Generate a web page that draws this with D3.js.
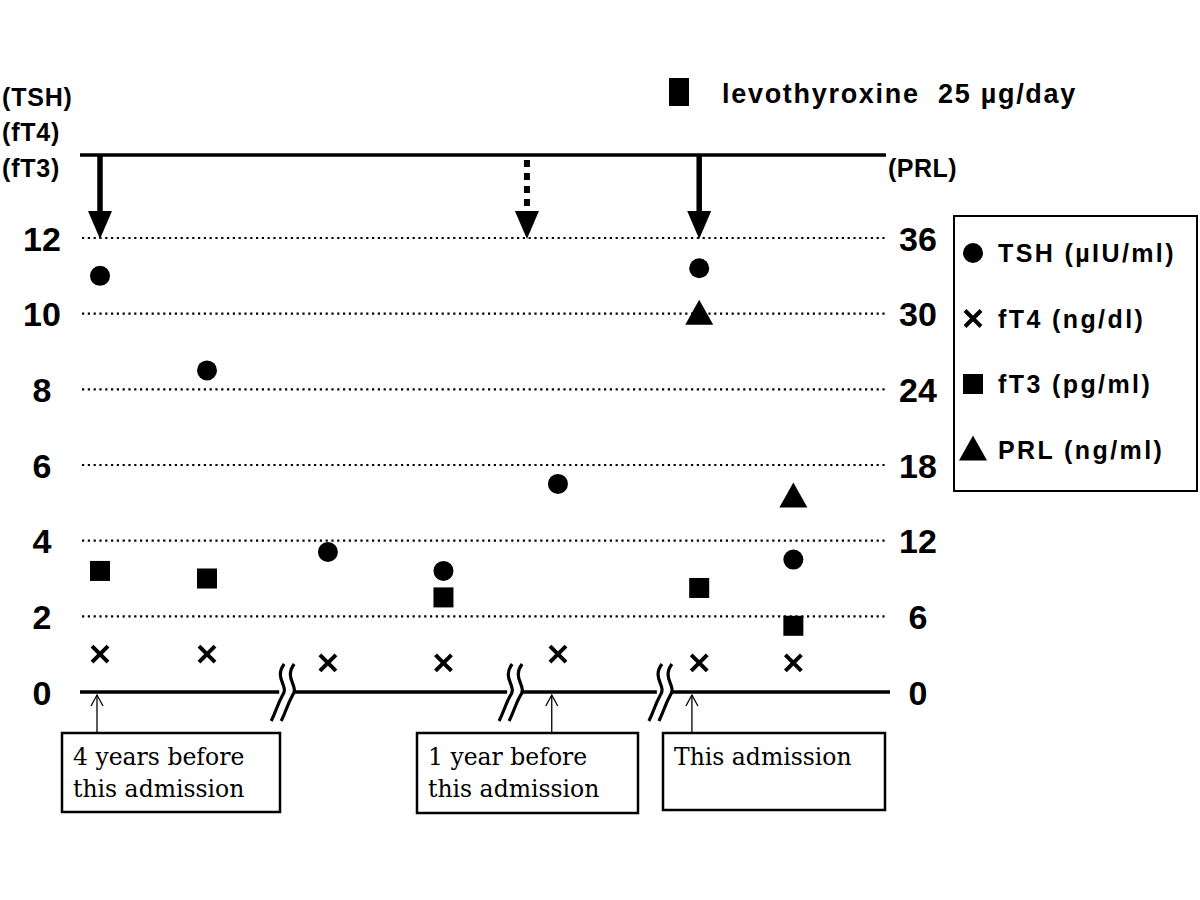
<!DOCTYPE html>
<html><head><meta charset="utf-8">
<script src="https://cdn.jsdelivr.net/npm/d3@7"></script>
<style>body{margin:0;background:#fff}</style>
</head><body>
<script>
// ---- data ----
const visitPos = [0, 1, 2.13, 3.21, 4.28, 5.6, 6.48];   // x position of each visit (time units, broken axis)
const tsh = [11.0, 8.5, 3.7, 3.2, 5.5, 11.2, 3.5];
const ft4 = [1.0, 1.0, 0.77, 0.77, 1.0, 0.77, 0.77];
const ft3 = [3.2, 3.0, null, 2.5, null, 2.75, 1.75];
const prl = [null, null, null, null, null, 30, 15.5];
const leftTicks = [0, 2, 4, 6, 8, 10, 12];
const rightTicks = [0, 6, 12, 18, 24, 30, 36];
const breakPos = [1.74, 3.87, 5.27];
const doseArrows = [{pos: 0, dashed: false}, {pos: 3.99, dashed: true}, {pos: 5.6, dashed: false}];
const notes = [
  {pos: 0, lines: ["4 years before", "this admission"]},
  {pos: 4.25, lines: ["1 year before", "this admission"]},
  {pos: 5.56, lines: ["This admission"]}
];
const legendItems = [
  {sym: "circle", label: "TSH (\u00b5IU/ml)"},
  {sym: "cross", label: "fT4 (ng/dl)"},
  {sym: "square", label: "fT3 (pg/ml)"},
  {sym: "triangle", label: "PRL (ng/ml)"}
];

const W = 1200, H = 900;
const svg = d3.select("body").append("svg").attr("width", W).attr("height", H);
const x = d3.scaleLinear().domain([0, 1]).range([100, 207]);
const yL = d3.scaleLinear().domain([0, 12]).range([692, 238]);
const yR = d3.scaleLinear().domain([0, 36]).range([692, 238]);
const sans = "'Liberation Sans', Arial, sans-serif";
const serif = "'DejaVu Serif', 'Liberation Serif', serif";
const x0 = 82, x1 = 886;

// gridlines (dotted)
svg.append("g").selectAll("line").data(leftTicks.filter(d => d > 0)).join("line")
  .attr("x1", x0).attr("x2", x1).attr("y1", d => yL(d)).attr("y2", d => yL(d))
  .attr("stroke", "#000").attr("stroke-width", 2.2).attr("stroke-dasharray", "2.2,3.6");

// left axis ticks
const axL = d3.axisLeft(yL).tickValues(leftTicks).tickSize(0).tickPadding(0);
const gL = svg.append("g").attr("transform", "translate(42,0)").call(axL);
gL.select(".domain").remove();
gL.selectAll("text").attr("font-family", sans).attr("font-weight", "bold").attr("font-size", 34).attr("dy", "0.36em").attr("text-anchor", "middle");
const axR = d3.axisRight(yR).tickValues(rightTicks).tickSize(0).tickPadding(0);
const gR = svg.append("g").attr("transform", "translate(918,0)").call(axR);
gR.select(".domain").remove();
gR.selectAll("text").attr("font-family", sans).attr("font-weight", "bold").attr("font-size", 34).attr("dy", "0.36em").attr("text-anchor", "middle");

// axis titles
[["(TSH)", 97], ["(fT4)", 132], ["(fT3)", 168]].forEach(([t, yy]) =>
  svg.append("text").attr("x", 2).attr("y", yy).attr("dy", "0.36em").text(t)
    .attr("font-family", sans).attr("font-weight", "bold").attr("font-size", 25).attr("letter-spacing", 0.8));
svg.append("text").attr("x", 888).attr("y", 168).attr("dy", "0.36em").text("(PRL)")
  .attr("font-family", sans).attr("font-weight", "bold").attr("font-size", 25).attr("letter-spacing", 0.5);

// top line & baseline
svg.append("line").attr("x1", 80).attr("x2", x1).attr("y1", 155).attr("y2", 155).attr("stroke", "#000").attr("stroke-width", 3.5);
svg.append("line").attr("x1", 80).attr("x2", 890).attr("y1", yL(0)).attr("y2", yL(0)).attr("stroke", "#000").attr("stroke-width", 3.5);

// break marks
breakPos.forEach(p => {
  const cx = x(p), cy = yL(0);
  const g = svg.append("g").attr("transform", `translate(${cx},${cy})`);
  g.append("rect").attr("x", -7).attr("y", -4).attr("width", 14).attr("height", 8).attr("fill", "#fff");
  [-5, 5].forEach(o => {
    g.append("path").attr("d", `M${o+3},-28 C${o-8},-13 ${o+9},-6 ${o+1},4 C${o-4},13 ${o-5},19 ${o-10},29`)
      .attr("fill", "none").attr("stroke", "#000").attr("stroke-width", 3.2);
  });
});

// dose arrows
doseArrows.forEach(a => {
  const cx = x(a.pos);
  svg.append("line").attr("x1", cx).attr("x2", cx).attr("y1", a.dashed ? 160 : 155).attr("y2", 214)
    .attr("stroke", "#000").attr("stroke-width", a.dashed ? 6 : 5.5)
    .attr("stroke-dasharray", a.dashed ? "7,6" : null);
  svg.append("path").attr("d", `M${cx-12},211 L${cx+12},211 L${cx},239 Z`).attr("fill", "#000");
});

// legend-top: levothyroxine
svg.append("rect").attr("x", 669).attr("y", 78).attr("width", 20).attr("height", 28).attr("fill", "#000");
svg.append("text").attr("x", 722).attr("y", 93).attr("dy", "0.36em").text("levothyroxine  25 \u00b5g/day")
  .attr("font-family", sans).attr("font-weight", "bold").attr("font-size", 27).attr("letter-spacing", 1.7).style("white-space", "pre");

// symbols
function drawSym(g, sym, cx, cy) {
  if (sym === "circle") g.append("circle").attr("cx", cx).attr("cy", cy).attr("r", 10).attr("fill", "#000");
  else if (sym === "square") g.append("rect").attr("x", cx - 10).attr("y", cy - 10).attr("width", 20).attr("height", 20).attr("fill", "#000");
  else if (sym === "triangle") g.append("path").attr("d", `M${cx},${cy-14} L${cx+14},${cy+11} L${cx-14},${cy+11} Z`).attr("fill", "#000");
  else if (sym === "cross") g.append("path").attr("d", `M${cx-8},${cy-8} L${cx+8},${cy+8} M${cx+8},${cy-8} L${cx-8},${cy+8}`).attr("stroke", "#000").attr("stroke-width", 4);
}
const series = [["circle", tsh, yL], ["cross", ft4, yL], ["square", ft3, yL], ["triangle", prl, yR]];
series.forEach(([sym, vals, sc]) => {
  const g = svg.append("g");
  vals.forEach((v, i) => { if (v != null) drawSym(g, sym, x(visitPos[i]), sc(v)); });
});

// legend box
svg.append("rect").attr("x", 954).attr("y", 216).attr("width", 243).attr("height", 275).attr("fill", "none").attr("stroke", "#000").attr("stroke-width", 2);
legendItems.forEach((d, i) => {
  const cy = 253 + i * 65.5;
  drawSym(svg, d.sym, 973, cy);
  svg.append("text").attr("x", 998).attr("y", cy).attr("dy", "0.36em").text(d.label)
    .attr("font-family", sans).attr("font-weight", "bold").attr("font-size", 25).attr("letter-spacing", 2.4);
});

// annotation boxes
const boxes = [[62, 733, 218, 79], [417, 733, 221, 80], [663, 733, 222, 77]];
notes.forEach((n, i) => {
  const [bx, by, bw, bh] = boxes[i];
  const ax = x(n.pos) - 3;
  svg.append("line").attr("x1", ax).attr("x2", ax).attr("y1", by).attr("y2", yL(0) + 3).attr("stroke", "#000").attr("stroke-width", 1.3);
  svg.append("path").attr("d", `M${ax-6},${yL(0)+14} L${ax},${yL(0)+3} L${ax+6},${yL(0)+14}`).attr("fill", "none").attr("stroke", "#000").attr("stroke-width", 1.3);
  svg.append("rect").attr("x", bx).attr("y", by).attr("width", bw).attr("height", bh).attr("fill", "#fff").attr("stroke", "#000").attr("stroke-width", 2.5);
  n.lines.forEach((t, j) => {
    svg.append("text").attr("x", bx + 11).attr("y", by + 24 + j * 32).attr("dy", "0.36em").text(t)
      .attr("font-family", serif).attr("font-size", 23.5);
  });
});
</script>
</body></html>
